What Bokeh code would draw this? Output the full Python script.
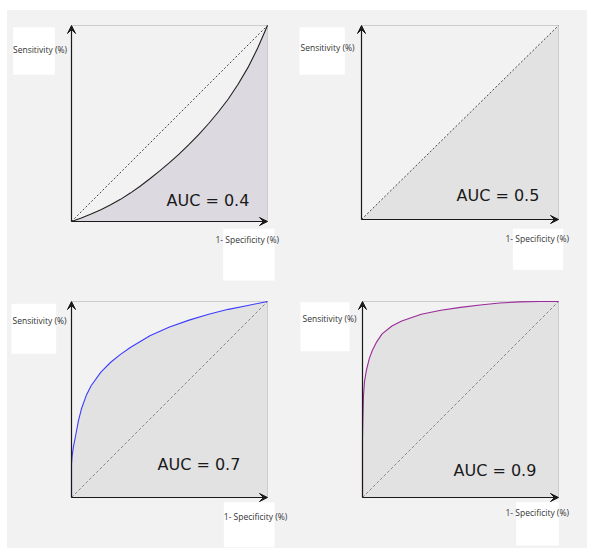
from bokeh.plotting import figure
from bokeh.layouts import gridplot
from bokeh.models import Range1d, Arrow, VeeHead
from bokeh.core.properties import value
from bokeh.embed import file_html
from bokeh.resources import INLINE

# ---- data -----------------------------------------------------------------
auc_values = [0.4, 0.5, 0.7, 0.9]
y_title = "Sensitivity (%)"
x_title = "1- Specificity (%)"

chance_fpr = [0.0, 1.0]
chance_tpr = [0.0, 1.0]

fpr_04 = [0, .05, .1, .15, .2, .25, .3, .35, .4, .45, .5, .55, .6, .65, .7, .75, .8, .85, .9, .95, 1]
tpr_04 = [0, .018, .038, .06, .085, .113, .145, .18, .218, .258, .30, .345, .393, .445, .50, .56, .625, .70, .785, .885, 1.0]

fpr_05 = chance_fpr
tpr_05 = chance_tpr

fpr_07 = [0, 0, .003, .01, .02, .035, .05, .075, .1, .15, .2, .25, .3, .4, .5, .6, .7, .8, .9, 1]
tpr_07 = [0, .17, .21, .26, .31, .39, .45, .52, .57, .64, .69, .73, .765, .825, .87, .905, .935, .96, .98, 1]

fpr_09 = [0, 0, .002, .005, .01, .02, .035, .05, .07, .1, .15, .2, .3, .4, .5, .6, .7, .8, .9, 1]
tpr_09 = [0, .3, .40, .52, .59, .65, .71, .75, .79, .835, .875, .90, .935, .955, .97, .982, .992, .998, 1.0, 1.0]

BG = "#f2f2f2"


def make_panel(frame, box, fpr, tpr, auc, curve_color, fill_color,
               diag_color, diag_dash, auc_pos, ylab_box, ylab_pos, xlab_box, xlab_pos):
    fx0, fy0, fx1, fy1 = frame
    bx0, by0, bx1, by1 = box
    sx = bx1 - bx0
    sy = by1 - by0

    def dx(px):
        return (px - bx0) / sx

    def dy(py):
        return (by1 - py) / sy

    p = figure(width=int(fx1 - fx0), height=int(fy1 - fy0),
               x_range=Range1d(dx(fx0), dx(fx1)), y_range=Range1d(dy(fy1), dy(fy0)),
               toolbar_location=None, output_backend="svg",
               x_axis_location=None, y_axis_location=None,
               background_fill_color=BG, border_fill_color=BG,
               outline_line_color=None, min_border=0)
    p.grid.grid_line_color = None

    # area under the ROC curve
    xs = list(fpr) + [1.0, 0.0]
    ys = list(tpr) + [0.0, 0.0]
    p.patch(xs, ys, fill_color=fill_color, line_color=None)

    # light frame on top and right
    p.line([0, 1, 1], [1, 1, 0], line_color="#cccccc", line_width=1)

    # chance diagonal
    p.line(chance_fpr, chance_tpr, line_color=diag_color, line_width=1, line_dash=diag_dash)

    # ROC curve
    if curve_color is not None:
        p.line(fpr, tpr, line_color=curve_color, line_width=1.1)

    # axes with arrow heads
    for xe, ye in ((0, 1), (1, 0)):
        p.add_layout(Arrow(x_start=0, y_start=0, x_end=xe, y_end=ye,
                           line_color="#1a1a1a", line_width=1.2,
                           end=VeeHead(size=8, fill_color="#1a1a1a", line_color="#1a1a1a",
                                       line_width=1)))

    # white label boxes
    for (l, t, r, b) in (ylab_box, xlab_box):
        p.quad(left=[dx(l)], right=[dx(r)], top=[dy(t)], bottom=[dy(b)],
               fill_color="white", line_color=None)

    p.text(x=[dx(ylab_pos[0]), dx(xlab_pos[0])], y=[dy(ylab_pos[1]), dy(xlab_pos[1])],
           text=[y_title, x_title], text_font=value("Open Sans"), text_font_size="8.5px",
           text_color="#333333", text_align="left", text_baseline="middle")

    p.text(x=[dx(auc_pos[0])], y=[dy(auc_pos[1])], text=[f"AUC = {auc}"],
           text_font=value("DejaVu Sans"), text_font_size="16px", text_color="#1a1a1a",
           text_align="left", text_baseline="alphabetic")
    return p


p1 = make_panel(frame=(7, 10, 295, 290), box=(71, 25, 267, 221),
                fpr=fpr_04, tpr=tpr_04, auc=auc_values[0], curve_color="#222222",
                fill_color="#ddd9e0", diag_color="#444444", diag_dash="2 2",
                auc_pos=(166, 200), ylab_box=(12.7, 26.7, 54.3, 74.3), ylab_pos=(12.5, 49),
                xlab_box=(222.7, 228.3, 274, 280), xlab_pos=(215, 238.7))

p2 = make_panel(frame=(295, 10, 587, 290), box=(361, 25, 558, 219),
                fpr=fpr_05, tpr=tpr_05, auc=auc_values[1], curve_color=None,
                fill_color="#e2e2e2", diag_color="#444444", diag_dash="2 2",
                auc_pos=(456, 195), ylab_box=(299, 26.7, 344.3, 74.3), ylab_pos=(300, 47),
                xlab_box=(512.3, 228.3, 562.7, 269.3), xlab_pos=(505, 237.7))

p3 = make_panel(frame=(7, 290, 295, 548), box=(71, 301, 267, 497),
                fpr=fpr_07, tpr=tpr_07, auc=auc_values[2], curve_color="#3b3bff",
                fill_color="#e2e2e2", diag_color="#888888", diag_dash="3 2",
                auc_pos=(157, 464), ylab_box=(11, 303.3, 55.7, 353.3), ylab_pos=(12, 320),
                xlab_box=(223.3, 501.7, 274, 546.7), xlab_pos=(223.3, 516))

p4 = make_panel(frame=(295, 290, 587, 548), box=(362, 301, 558, 497),
                fpr=fpr_09, tpr=tpr_09, auc=auc_values[3], curve_color="#9a2a9a",
                fill_color="#e2e2e2", diag_color="#888888", diag_dash="3 2",
                auc_pos=(453, 470), ylab_box=(300, 301.7, 349, 350.7), ylab_pos=(302, 318),
                xlab_box=(515.7, 501.7, 558.3, 545), xlab_pos=(505, 511.7))

grid = gridplot([[p1, p2], [p3, p4]], toolbar_location=None)
grid.styles = {"margin": "10px 3px 0px 7px", "background-color": BG}

open("out.html", "w").write(file_html(grid, INLINE))
